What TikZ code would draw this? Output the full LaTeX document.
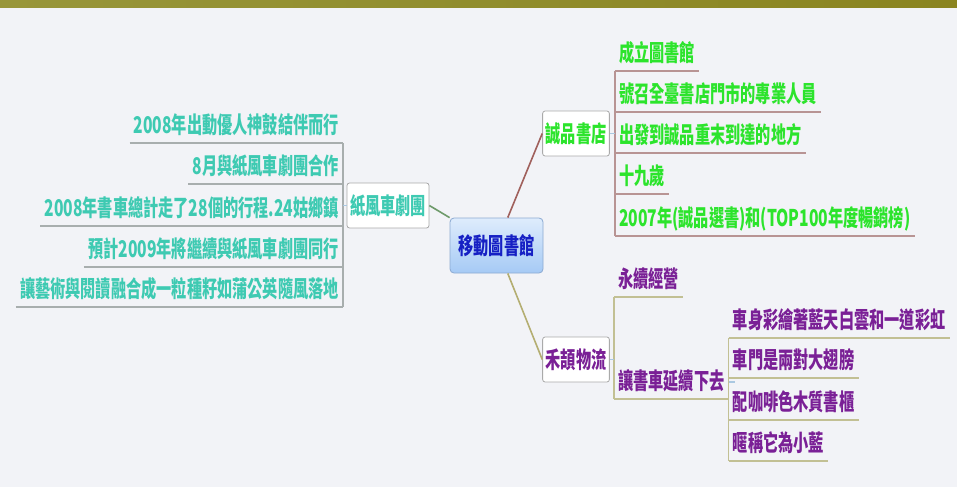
\documentclass[tikz,border=0pt]{standalone}
\usepackage{fontspec}
\usetikzlibrary{calc}
\newfontfamily\cjk[FakeStretch=0.66]{Noto Sans CJK TC}
\newfontfamily\latf[FakeStretch=0.68]{Noto Sans CJK TC}
\newcommand{\lt}[1]{{\latf\bfseries #1}}
\definecolor{bg}{RGB}{242,243,247}
\definecolor{barL}{RGB}{152,150,58}
\definecolor{barR}{RGB}{138,132,32}
\definecolor{teal}{RGB}{62,202,178}
\definecolor{grn}{RGB}{44,228,44}
\definecolor{purp}{RGB}{122,32,150}
\definecolor{rootTxt}{RGB}{22,32,196}
\definecolor{rootTop}{RGB}{222,236,252}
\definecolor{rootBot}{RGB}{166,202,245}
\definecolor{rootBd}{RGB}{140,170,210}
\definecolor{boxBd}{RGB}{170,170,170}
\definecolor{ulTeal}{RGB}{168,174,174}
\definecolor{ulGrn}{RGB}{184,148,148}
\definecolor{ulPurp}{RGB}{194,192,148}
\definecolor{cZf}{RGB}{110,154,106}
\definecolor{cCp}{RGB}{160,96,92}
\definecolor{cHj}{RGB}{180,174,114}
\definecolor{stub}{RGB}{170,200,225}
\begin{document}
\begin{tikzpicture}[x=1pt,y=-1pt,
  every node/.style={font=\cjk\bfseries\fontsize{23}{25}\selectfont},
  topicbox/.style={draw=boxBd, fill=white, rounded corners=2.5pt, line width=0.8pt,
    minimum height=45pt, inner xsep=3pt, inner ysep=0pt},
  rootbox/.style={draw=rootBd, top color=rootTop, bottom color=rootBot, rounded corners=4pt,
    line width=0.8pt, minimum width=93pt, minimum height=55pt, inner xsep=3pt, text=rootTxt},
  item/.style={inner xsep=4pt, inner ysep=0pt, text height=20pt, text depth=9pt},
  ul/.style={line width=1.2pt},
  branch/.style={line width=1.6pt},
  stubline/.style={draw=stub, line width=1.2pt}]
\path[use as bounding box] (0,0) rectangle (957,487);
\fill[bg] (0,0) rectangle (957,487);
\shade[left color=barL, right color=barR] (0,0) rectangle (957,8);

% root and main topics
\node[rootbox] (root) at (496.5,245.5) {移動圖書館};
\node[topicbox, text=teal, minimum width=80pt] (zf) at (388,205.5) {紙風車劇團};
\node[topicbox, text=grn, minimum width=66pt] (cp) at (576,133.5) {誠品書店};
\node[topicbox, text=purp, minimum width=66pt] (hj) at (576,359.5) {禾頡物流};

% branches
\draw[branch, cZf] (root.north west) -- (zf.east);
\draw[branch, cCp] ($(root.north west)!0.62!(root.north east)$) -- (cp.west);
\draw[branch, cHj] ($(root.south west)!0.62!(root.south east)$) -- (hj.west);

% left children
\node[item, text=teal, anchor=south east] (l1) at (343,143) {\lt{2008}年出動優人神鼓結伴而行};
\node[item, text=teal, anchor=south east] (l2) at (343,184) {\lt{8}月與紙風車劇團合作};
\node[item, text=teal, anchor=south east] (l3) at (343,226) {\lt{2008}年書車總計走了\lt{28}個的行程\lt{.24}姑鄉鎮};
\node[item, text=teal, anchor=south east] (l4) at (343,267) {預計\lt{2009}年將繼續與紙風車劇團同行};
\node[item, text=teal, anchor=south east] (l5) at (343,307) {讓藝術與閱讀融合成一粒種籽如蒲公英隨風落地};
\foreach \n in {l1,l2,l3,l4,l5}{\draw[ul, ulTeal] (\n.south west) -- (\n.south east);}
\draw[ul, ulTeal] (l1.south east) -- (l5.south east);
\draw[stubline] (zf.west) -- (zf.west -| l1.south east);

% green children
\node[item, text=grn, anchor=south west] (g1) at (615,71) {成立圖書館};
\node[item, text=grn, anchor=south west] (g2) at (615,112) {號召全臺書店門市的專業人員};
\node[item, text=grn, anchor=south west] (g3) at (615,153) {出發到誠品重末到達的地方};
\node[item, text=grn, anchor=south west] (g4) at (615,194) {十九歲};
\node[item, text=grn, anchor=south west] (g5) at (615,236) {\lt{2007}年\lt{(}誠品選書\lt{)}和\lt{(TOP100}年度暢銷榜\lt{)}};
\foreach \n in {g1,g2,g3,g4,g5}{\draw[ul, ulGrn] (\n.south west) -- (\n.south east);}
\draw[ul, ulGrn] (g1.south west) -- (g5.south west);
\draw[stubline] (cp.east) -- (cp.east -| g1.south west);

% purple children
\node[item, text=purp, anchor=south west] (p1) at (614,297) {永續經營};
\node[item, text=purp, anchor=south west] (p2) at (614,399) {讓書車延續下去};
\foreach \n in {p1,p2}{\draw[ul, ulPurp] (\n.south west) -- (\n.south east);}
\draw[ul, ulPurp] (p1.south west) -- (p2.south west);
\draw[stubline] (hj.east) -- (hj.east -| p1.south west);

\coordinate (y1) at (0,338);
\coordinate (y2) at (0,378);
\coordinate (y3) at (0,420);
\coordinate (y4) at (0,461);
\node[item, text=purp, anchor=south west] (s1) at (p2.south east |- y1) {車身彩繪著藍天白雲和一道彩虹};
\node[item, text=purp, anchor=south west] (s2) at (p2.south east |- y2) {車門是兩對大翅膀};
\node[item, text=purp, anchor=south west] (s3) at (p2.south east |- y3) {配咖啡色木質書櫃};
\node[item, text=purp, anchor=south west] (s4) at (p2.south east |- y4) {暱稱它為小藍};
\foreach \n in {s1,s2,s3,s4}{\draw[ul, ulPurp] (\n.south west) -- (\n.south east);}
\draw[ul, ulPurp] (s1.south west) -- (s4.south west);
\draw[stubline] ($(p2.south east)+(0,-17)$) coordinate (p2r) -- ++(6,0);
\end{tikzpicture}
\end{document}
